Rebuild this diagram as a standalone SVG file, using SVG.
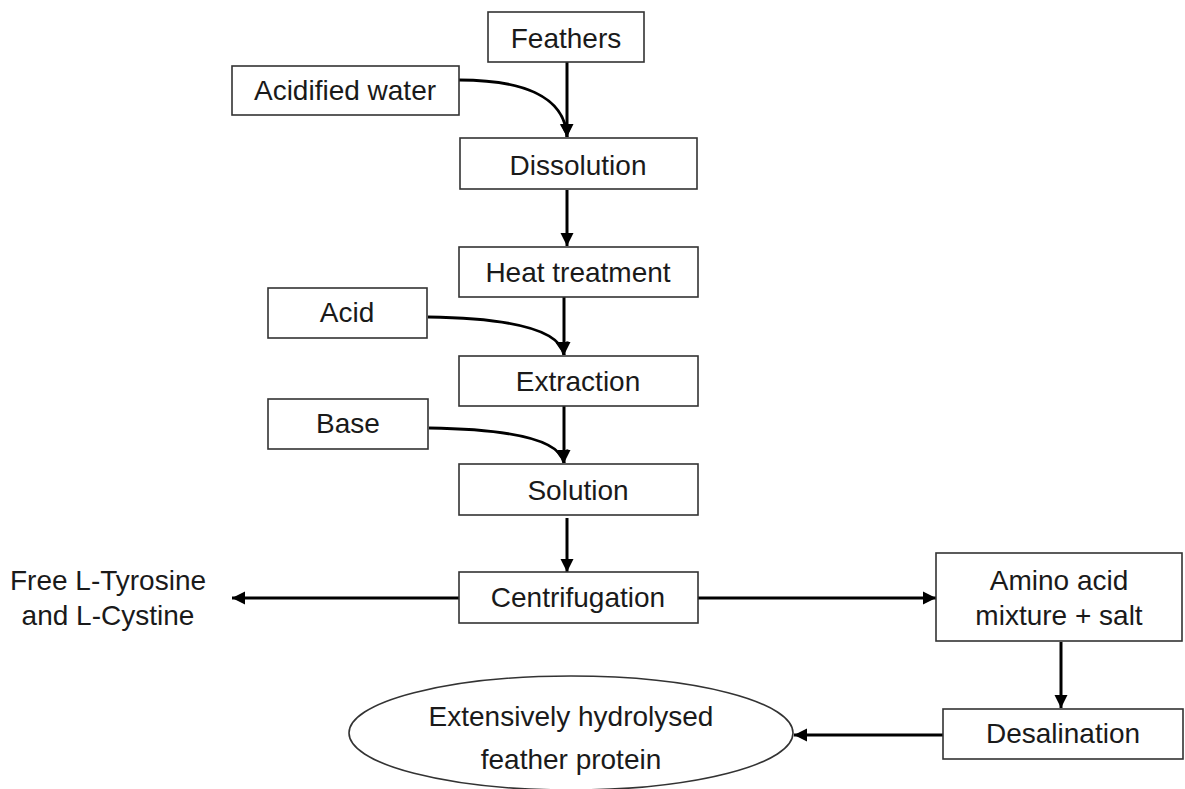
<svg xmlns="http://www.w3.org/2000/svg" width="1185" height="789" viewBox="0 0 1185 789">
<style>
.box{fill:#fff;stroke:#333;stroke-width:1.6}
.t{font-family:"Liberation Sans",Arial,sans-serif;font-size:28px;fill:#1a1a1a;text-anchor:middle}
.c{fill:none;stroke:#000;stroke-width:3;marker-end:url(#ah)}
</style>
<defs>
<marker id="ah" markerUnits="userSpaceOnUse" markerWidth="16" markerHeight="16" viewBox="0 0 16 16" refX="13" refY="8" orient="auto">
<path d="M0,1.5 L13,8 L0,14.5 Z" fill="#000"/>
</marker>
</defs>
<rect width="1185" height="789" fill="#fff"/>
<g id="connectors">
<path class="c" d="M567,62 V137"/>
<path class="c" d="M459,80 C520,80 565,95 567,137"/>
<path class="c" d="M567,190 V246"/>
<path class="c" d="M564,297 V355"/>
<path class="c" d="M428,317 C500,318 560,327 564,355"/>
<path class="c" d="M564,406 V463"/>
<path class="c" d="M429,428 C500,429 560,437 564,463"/>
<path class="c" d="M567,518 V572"/>
<path class="c" d="M459,598 H232"/>
<path class="c" d="M698,598 H936"/>
<path class="c" d="M1061,642 V708"/>
<path class="c" d="M943,735 H794"/>
</g>
<g id="feathers"><rect class="box" x="488" y="12" width="156" height="50"/><text class="t" x="566" y="48">Feathers</text></g>
<g id="acidified-water"><rect class="box" x="232" y="66" width="227" height="49"/><text class="t" x="345" y="100">Acidified water</text></g>
<g id="dissolution"><rect class="box" x="460" y="138" width="237" height="51"/><text class="t" x="578" y="175">Dissolution</text></g>
<g id="heat-treatment"><rect class="box" x="459" y="247" width="239" height="50"/><text class="t" x="578" y="282">Heat treatment</text></g>
<g id="acid"><rect class="box" x="268" y="288" width="159" height="50"/><text class="t" x="347" y="322">Acid</text></g>
<g id="extraction"><rect class="box" x="459" y="356" width="239" height="50"/><text class="t" x="578" y="391">Extraction</text></g>
<g id="base"><rect class="box" x="268" y="399" width="160" height="50"/><text class="t" x="348" y="433">Base</text></g>
<g id="solution"><rect class="box" x="459" y="464" width="239" height="51"/><text class="t" x="578" y="500">Solution</text></g>
<g id="centrifugation"><rect class="box" x="459" y="572" width="239" height="51"/><text class="t" x="578" y="607">Centrifugation</text></g>
<g id="free-amino"><text class="t" x="108" y="590">Free L-Tyrosine</text><text class="t" x="108" y="625">and L-Cystine</text></g>
<g id="amino-mixture"><rect class="box" x="936" y="553" width="246" height="88"/><text class="t" x="1059" y="590">Amino acid</text><text class="t" x="1059" y="625">mixture + salt</text></g>
<g id="desalination"><rect class="box" x="943" y="709" width="240" height="50"/><text class="t" x="1063" y="743">Desalination</text></g>
<g id="hydrolysed-protein"><ellipse class="box" cx="571" cy="733" rx="222" ry="57"/><text class="t" x="571" y="726">Extensively hydrolysed</text><text class="t" x="571" y="769">feather protein</text></g>
</svg>
